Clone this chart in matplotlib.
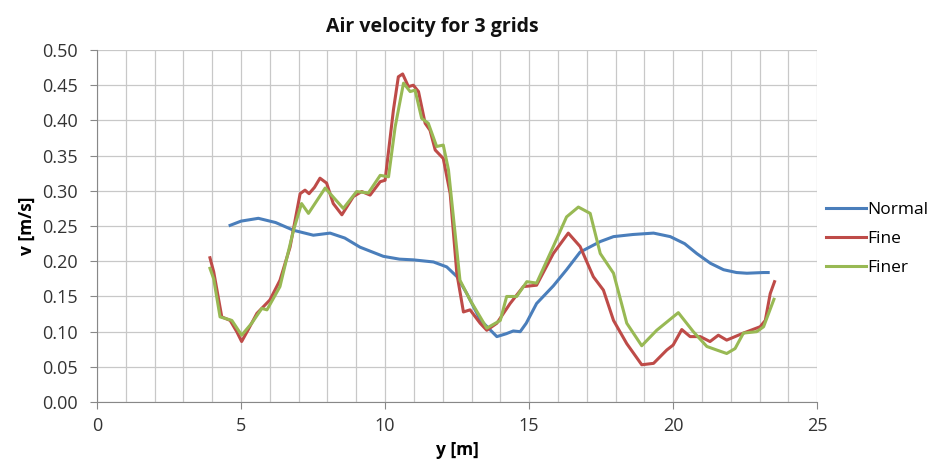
import matplotlib
matplotlib.use("Agg")
import matplotlib.pyplot as plt
import numpy as np

plt.rcParams['font.family'] = ['Open Sans', 'DejaVu Sans']

# series
normal_x = [4.62, 5.0, 5.6, 6.2, 6.82, 7.51, 8.09, 8.6, 9.13, 9.94, 10.5, 10.98, 11.68,
            12.14, 12.5, 12.84, 13.3, 13.88, 14.2, 14.45, 14.69, 14.9, 15.26, 15.84,
            16.3, 16.77, 17.47, 17.93, 18.6, 19.32, 19.9, 20.4, 20.82, 21.3, 21.75,
            22.2, 22.56, 23.14, 23.3]
normal_v = [0.251, 0.257, 0.261, 0.255, 0.244, 0.237, 0.240, 0.233, 0.220, 0.207, 0.203,
            0.202, 0.199, 0.192, 0.178, 0.154, 0.117, 0.093, 0.097, 0.101, 0.100, 0.112,
            0.140, 0.165, 0.188, 0.213, 0.228, 0.235, 0.238, 0.240, 0.235, 0.225, 0.211,
            0.197, 0.188, 0.184, 0.183, 0.184, 0.184]

fine_x = [3.92, 4.05, 4.33, 4.62, 4.85, 5.02, 5.25, 5.55, 6.0, 6.35, 6.7, 7.05, 7.22,
          7.36, 7.55, 7.74, 7.97, 8.2, 8.5, 8.9, 9.19, 9.48, 9.83, 10.0, 10.29, 10.46,
          10.61, 10.81, 10.98, 11.16, 11.39, 11.56, 11.74, 12.02, 12.26, 12.49, 12.72,
          12.95, 13.3, 13.53, 13.88, 14.34, 14.8, 15.26, 15.84, 16.36, 16.77, 17.23,
          17.58, 17.93, 18.39, 18.91, 19.32, 19.78, 20.0, 20.3, 20.59, 20.94, 21.28,
          21.57, 21.86, 22.44, 23.02, 23.2, 23.37, 23.52]
fine_v = [0.205, 0.185, 0.121, 0.116, 0.100, 0.086, 0.103, 0.126, 0.145, 0.173, 0.220,
          0.296, 0.301, 0.296, 0.305, 0.318, 0.311, 0.282, 0.266, 0.292, 0.299, 0.294,
          0.313, 0.315, 0.415, 0.462, 0.466, 0.448, 0.450, 0.441, 0.396, 0.386, 0.358,
          0.346, 0.296, 0.183, 0.128, 0.131, 0.112, 0.102, 0.112, 0.140, 0.164, 0.166,
          0.211, 0.240, 0.221, 0.178, 0.159, 0.116, 0.083, 0.053, 0.055, 0.074, 0.081,
          0.103, 0.093, 0.093, 0.086, 0.095, 0.088, 0.098, 0.107, 0.116, 0.154, 0.171]

finer_x = [3.92, 4.05, 4.27, 4.68, 5.02, 5.37, 5.72, 5.9, 6.35, 6.82, 7.1, 7.34, 7.92,
           8.55, 9.01, 9.42, 9.83, 10.12, 10.35, 10.64, 10.87, 11.04, 11.27, 11.5,
           11.79, 12.02, 12.2, 12.6, 12.95, 13.3, 13.53, 14.0, 14.22, 14.57, 14.92,
           15.26, 15.84, 16.3, 16.71, 17.12, 17.47, 17.93, 18.39, 18.91, 19.43, 20.18,
           20.7, 21.17, 21.51, 21.86, 22.15, 22.44, 22.9, 23.14, 23.5]
finer_v = [0.190, 0.175, 0.121, 0.116, 0.095, 0.112, 0.133, 0.131, 0.164, 0.244, 0.282,
           0.268, 0.304, 0.275, 0.299, 0.297, 0.322, 0.320, 0.391, 0.453, 0.441, 0.443,
           0.403, 0.396, 0.363, 0.365, 0.330, 0.173, 0.145, 0.121, 0.105, 0.116, 0.150,
           0.150, 0.171, 0.169, 0.221, 0.263, 0.277, 0.268, 0.211, 0.183, 0.112, 0.080,
           0.102, 0.127, 0.100, 0.079, 0.074, 0.069, 0.076, 0.098, 0.100, 0.107, 0.146]

fig = plt.figure(figsize=(9.34, 4.59), dpi=100)
ax = fig.add_axes([0.1039, 0.124, 0.771, 0.767])

ax.plot(normal_x, normal_v, color='#4A7EBB', lw=2.2, label='Normal', solid_joinstyle='round')
ax.plot(fine_x, fine_v, color='#BE4B48', lw=2.2, label='Fine', solid_joinstyle='round')
ax.plot(finer_x, finer_v, color='#98B954', lw=2.2, label='Finer', solid_joinstyle='round')

ax.set_xlim(0, 25)
ax.set_ylim(0, 0.5)
ax.set_xticks(np.arange(0, 26, 5))
ax.set_xticks(np.arange(0, 26, 1), minor=True)
ax.set_yticks(np.arange(0, 0.51, 0.05))
ax.set_yticklabels([f"{v:.2f}" for v in np.arange(0, 0.51, 0.05)])
ax.grid(True, which='both', color='#c8c8c8', lw=0.9)
ax.set_axisbelow(True)
for s in ['top', 'right']:
    ax.spines[s].set_visible(False)
for s in ['left', 'bottom']:
    ax.spines[s].set_color('#888888')
ax.tick_params(which='major', colors='#888888', length=5, labelsize=13, labelcolor='#333333')
ax.tick_params(axis='y', pad=9)
ax.tick_params(axis='x', pad=6)
ax.tick_params(which='minor', length=0)

fig.text(432 / 934, 1 - 27 / 459, 'Air velocity for 3 grids', fontsize=14,
         fontweight='bold', ha='center', va='center', color='#111111')
ax.set_xlabel('y [m]', fontsize=12.5, fontweight='bold', labelpad=4)
ax.set_ylabel('v [m/s]', fontsize=12.5, fontweight='bold', labelpad=4)

ax.legend(loc='center left', bbox_to_anchor=(0.99, 0.463), frameon=False,
          fontsize=12.5, handlelength=2.3, handletextpad=0.1, labelspacing=0.75)

fig.savefig('out.png', dpi=100)
